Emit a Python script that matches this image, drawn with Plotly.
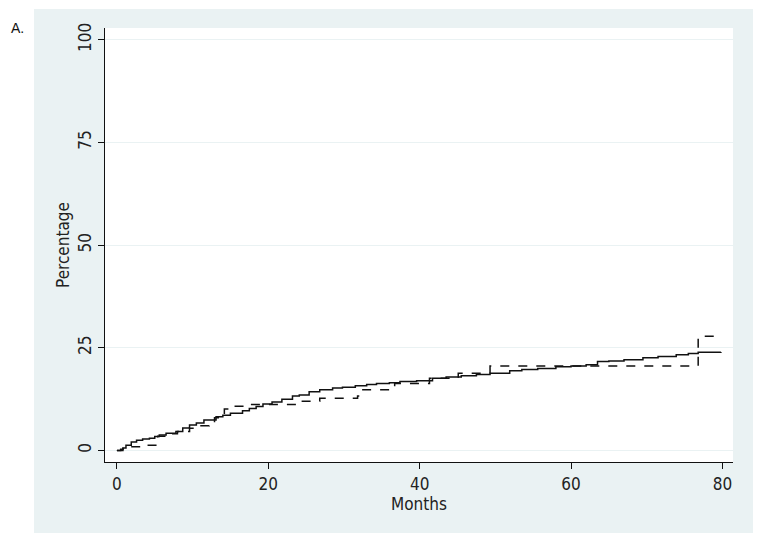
import plotly.graph_objects as go

# Cumulative incidence (%) over months – two groups (step functions)
months_solid = [0, 0.5, 0.8, 1.2, 1.9, 2.6, 3.4, 4.3, 5.0, 5.6, 6.5, 7.8, 8.7, 9.6,
                10.5, 11.5, 13.1, 14.0, 15.0, 16.6, 17.5, 18.4, 19.3, 20.5, 21.8,
                23.2, 24.1, 25.4, 26.8, 28.5, 29.8, 31.5, 33.0, 34.3, 36.0, 37.4,
                39.6, 41.7, 43.5, 45.5, 47.5, 49.3, 51.9, 53.5, 55.6, 58.0, 60.0,
                62.0, 63.5, 65.0, 67.0, 69.5, 71.5, 73.9, 75.5, 76.8, 79.8]
pct_solid = [0, 0.3, 0.6, 1.3, 2.1, 2.5, 2.8, 3.0, 3.4, 3.8, 4.2, 4.6, 5.5, 6.2,
             6.7, 7.4, 8.2, 8.6, 9.1, 9.7, 10.2, 10.7, 11.3, 11.8, 12.5,
             13.3, 13.5, 14.3, 14.8, 15.2, 15.4, 15.8, 16.1, 16.3, 16.5, 16.8,
             17.0, 17.6, 17.9, 18.2, 18.5, 18.8, 19.4, 19.7, 20.0, 20.4, 20.6,
             20.9, 21.7, 21.8, 22.1, 22.6, 22.9, 23.3, 23.6, 23.9, 24.0]

months_dashed = [0, 0.8, 1.2, 3.5, 5.4, 6.5, 8.0, 9.6, 11.0, 12.2, 12.9, 14.2, 14.8,
                 17.5, 24.1, 26.8, 31.8, 32.3, 36.7, 41.3, 45.1, 49.3, 76.8, 79.7]
pct_dashed = [0, 0.5, 0.9, 1.3, 3.5, 4.1, 4.6, 5.4, 6.0, 6.6, 8.0, 10.1, 10.8,
              11.2, 12.0, 12.7, 13.3, 14.8, 16.3, 17.6, 18.8, 20.6, 27.8, 27.8]

y_ticks = [0, 25, 50, 75, 100]
x_ticks = [0, 20, 40, 60, 80]

# page body adds an 8px offset; figure coordinates below account for it
OFF = 8
W, H = 765 - OFF, 544 - OFF
L, T = 105 - OFF, 28 - OFF
R = W - (733 - OFF)
B = H - (462 - OFF)
pw, ph = W - L - R, H - T - B

def px_x(p):  # page px -> paper x
    return (p - OFF - L) / pw

def px_y(p):  # page px -> paper y
    return (T + ph - (p - OFF)) / ph

NARROW = "Liberation Sans Narrow, Arial Narrow, DejaVu Sans Condensed, sans-serif"

fig = go.Figure()
fig.add_trace(go.Scatter(x=months_solid, y=pct_solid, mode="lines",
                         line=dict(shape="hv", color="#111111", width=1.5),
                         showlegend=False, hoverinfo="skip"))
fig.add_trace(go.Scatter(x=months_dashed, y=pct_dashed, mode="lines",
                         line=dict(shape="hv", color="#111111", width=1.5, dash="dash"),
                         showlegend=False, hoverinfo="skip"))

bg = "#EAF2F3"
fig.update_layout(
    width=W, height=H,
    margin=dict(l=L, r=R, t=T, b=B, pad=0),
    paper_bgcolor="white", plot_bgcolor="white",
    font=dict(family=NARROW, color="#222222", size=17),
    shapes=[
        dict(type="rect", xref="paper", yref="paper",
             x0=px_x(34), x1=px_x(753), y0=px_y(533), y1=px_y(9),
             fillcolor=bg, line=dict(width=0), layer="below"),
        dict(type="rect", xref="paper", yref="paper", x0=0, x1=1, y0=0, y1=1,
             fillcolor="white", line=dict(width=0), layer="below"),
    ],
    annotations=[
        dict(text="A.", xref="paper", yref="paper",
             x=px_x(9), y=px_y(28), xanchor="left", yanchor="middle",
             showarrow=False,
             font=dict(family="Liberation Sans, Arial, sans-serif", size=14, color="#111111")),
    ],
)
fig.update_xaxes(range=[-1.57, 81.4], tickvals=x_ticks, ticktext=[str(v) for v in x_ticks],
                 showgrid=False, zeroline=False, showline=True, linecolor="#111111",
                 linewidth=1.3, ticks="outside", ticklen=6, tickcolor="#111111",
                 title=dict(text="Months", font=dict(size=17), standoff=0))
fig.update_yaxes(range=[-2.8, 102.9], tickvals=y_ticks, ticktext=[str(v) for v in y_ticks],
                 showgrid=True, gridcolor=bg, gridwidth=1, zeroline=False,
                 showline=True, linecolor="#111111", linewidth=1.3,
                 ticks="outside", ticklen=6, tickcolor="#111111", tickangle=-90,
                 title=dict(text="Percentage", font=dict(size=17), standoff=1))

fig.write_html("out.html")
